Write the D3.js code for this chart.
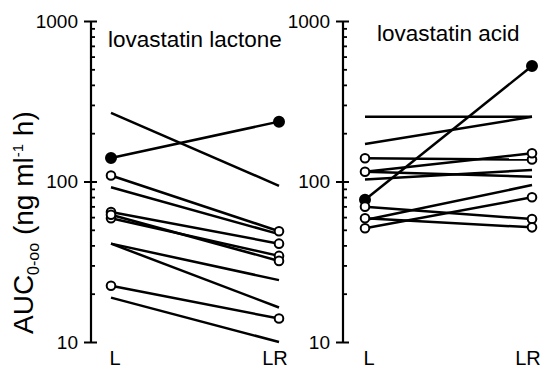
<!DOCTYPE html>
<html>
<head>
<meta charset="utf-8">
<script src="https://cdn.jsdelivr.net/npm/d3@7"></script>
<style>
  html, body { margin: 0; padding: 0; background: #fff; }
  svg { display: block; font-family: "Liberation Sans", Arial, sans-serif; }
</style>
</head>
<body>
<svg id="chart" width="540" height="369"></svg>
<script>
// ---- data ----
const groups = ["L", "LR"];
const yTicks = [10, 100, 1000];
const panelTitles = ["lovastatin lactone", "lovastatin acid"];

const lactoneL  = [268, 140, 109, 92, 64.6, 59, 62, 41, 41, 22.4, 18.9];
const lactoneLR = [94, 236, 49, 47, 41, 34.4, 32, 24.3, 16.4, 14, 10];
const lactoneMarker = ["none", "filled", "open", "none", "open", "open", "open", "none", "none", "open", "none"];

const acidL  = [253, 171, 139.5, 115, 103, 115, 77, 69.7, 59, 51.1, 57.5];
const acidLR = [253, 253, 137, 150, 118, 107, 524, 58.3, 51.8, 79.7, 95];
const acidMarker = ["none", "none", "open", "open", "none", "none", "filled", "open", "open", "open", "none"];

// ---- layout ----
const svg = d3.select("#chart");
const y = d3.scaleLog().domain([10, 1000]).range([342, 21]);

const panels = [
  { title: panelTitles[0], L: lactoneL, LR: lactoneLR, mk: lactoneMarker,
    axisX: 91, range: [111, 279], titleX: 108, titleY: 46.5, labelEnd: 78 },
  { title: panelTitles[1], L: acidL, LR: acidLR, mk: acidMarker,
    axisX: 343, range: [365, 532], titleX: 377, titleY: 40.5, labelEnd: 330 }
];

const minorTicks = [];
[10, 100].forEach(d => { for (let k = 2; k <= 9; k++) minorTicks.push(d * k); });

panels.forEach(p => {
  const x = d3.scalePoint().domain(groups).range(p.range);
  const g = svg.append("g");

  // major ticks to the left with labels
  const axL = g.append("g").attr("transform", `translate(${p.axisX},0)`)
    .call(d3.axisLeft(y).tickValues(yTicks).tickFormat(d3.format("d"))
      .tickSizeInner(7).tickSizeOuter(0).tickPadding(p.axisX - 7 - p.labelEnd));
  axL.select(".domain").remove();
  axL.selectAll("line").attr("stroke", "#000").attr("stroke-width", 2);
  axL.selectAll("text").attr("font-size", 19).attr("fill", "#000");

  // major ticks right extension
  const axR = g.append("g").attr("transform", `translate(${p.axisX},0)`)
    .call(d3.axisRight(y).tickValues(yTicks).tickFormat("").tickSizeInner(6).tickSizeOuter(0));
  axR.select(".domain").remove();
  axR.selectAll("line").attr("stroke", "#000").attr("stroke-width", 2);

  // minor ticks to the right
  const axM = g.append("g").attr("transform", `translate(${p.axisX},0)`)
    .call(d3.axisRight(y).tickValues(minorTicks).tickFormat("").tickSizeInner(4).tickSizeOuter(0));
  axM.select(".domain").remove();
  axM.selectAll("line").attr("stroke", "#000").attr("stroke-width", 1.8);

  // axis line
  g.append("line")
    .attr("x1", p.axisX).attr("x2", p.axisX)
    .attr("y1", y(10)).attr("y2", y(1000))
    .attr("stroke", "#000").attr("stroke-width", 2.2);

  // title
  g.append("text").attr("x", p.titleX).attr("y", p.titleY)
    .attr("font-size", 22.5).attr("fill", "#000").text(p.title);

  // category labels
  g.append("text").attr("x", x("L") + 4).attr("y", 365).attr("text-anchor", "middle")
    .attr("font-size", 20).attr("fill", "#000").text(groups[0]);
  g.append("text").attr("x", x("LR") - 4).attr("y", 365).attr("text-anchor", "middle")
    .attr("font-size", 20).attr("fill", "#000").text(groups[1]);

  const idx = d3.range(p.L.length);
  // lines
  g.selectAll("line.subj").data(idx).enter().append("line")
    .attr("class", "subj")
    .attr("x1", x("L")).attr("x2", x("LR"))
    .attr("y1", i => y(p.L[i])).attr("y2", i => y(p.LR[i]))
    .attr("stroke", "#000").attr("stroke-width", 2.5);

  // markers
  idx.filter(i => p.mk[i] !== "none").forEach(i => {
    groups.forEach(k => {
      const v = k === "L" ? p.L[i] : p.LR[i];
      g.append("circle")
        .attr("cx", x(k)).attr("cy", y(v))
        .attr("r", p.mk[i] === "filled" ? 5 : 4.3)
        .attr("fill", p.mk[i] === "filled" ? "#000" : "#fff")
        .attr("stroke", "#000").attr("stroke-width", 2);
    });
  });
});

// y-axis label
const yl = svg.append("text")
  .attr("transform", "translate(33,334) rotate(-90)")
  .attr("font-size", 28).attr("fill", "#000");
yl.append("tspan").text("AUC");
yl.append("tspan").attr("font-size", 16).attr("dy", 6).text("0-oo");
yl.append("tspan").attr("dy", -6).text(" (ng ml");
yl.append("tspan").attr("font-size", 15).attr("dy", -10).text("-1");
yl.append("tspan").attr("dy", 10).text(" h)");
</script>
</body>
</html>
